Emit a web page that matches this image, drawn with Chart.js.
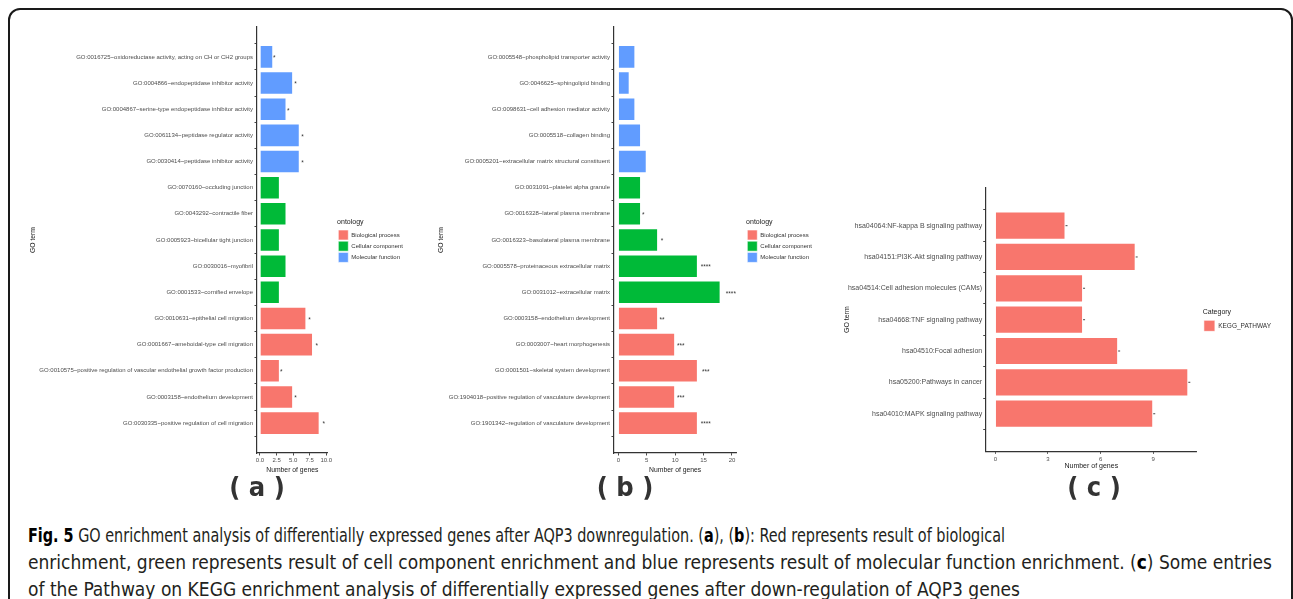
<!DOCTYPE html>
<html><head><meta charset="utf-8">
<script src="https://cdn.jsdelivr.net/npm/chart.js@4.4.1/dist/chart.umd.min.js"></script>
<style>
html,body{margin:0;padding:0;background:#fff;width:1293px;height:599px;overflow:hidden;position:relative}
#frame{position:absolute;left:8px;top:8px;width:1281px;height:640px;border:2px solid #1a1a1a;border-radius:12px}
canvas{position:absolute}
.plab{position:absolute;font-family:"Liberation Sans Narrow","DejaVu Sans Condensed",sans-serif;font-weight:bold;font-size:27px;line-height:27px;color:#333;transform:translate(-50%,-50%);white-space:pre}
#cap{position:absolute;left:28px;top:522px;font-family:"Liberation Sans Narrow","DejaVu Sans Condensed",sans-serif;font-size:20px;line-height:27px;color:#231f20;white-space:nowrap}
#cap .ln{transform-origin:0 0}
#cap b{color:#000}
</style></head><body>
<div id="frame"></div>
<canvas id="ca"></canvas>
<canvas id="cb"></canvas>
<canvas id="cc"></canvas>
<div class="plab" style="left:257px;top:486px">( a )</div>
<div class="plab" style="left:625px;top:486px">( b )</div>
<div class="plab" style="left:1094px;top:486px">( c )</div>
<div id="cap">
<div class="ln" id="d1"><span id="l1"><b>Fig. 5</b> GO enrichment analysis of differentially expressed genes after AQP3 downregulation. (<b>a</b>), (<b>b</b>): Red represents result of biological</span></div>
<div class="ln" id="d2"><span id="l2">enrichment, green represents result of cell component enrichment and blue represents result of molecular function enrichment. (<b>c</b>) Some entries</span></div>
<div class="ln" id="d3"><span id="l3">of the Pathway on KEGG enrichment analysis of differentially expressed genes after down-regulation of AQP3 genes</span></div>
</div>
<script>
const FONT = '"Liberation Sans", Arial, sans-serif';

// ---------- data ----------
const ontologyNames = ["Biological process", "Cellular component", "Molecular function"];
const ontologyColors = ["#F8766D", "#00BA38", "#619CFF"];

const termsA = [
  "GO:0016725~oxidoreductase activity, acting on CH or CH2 groups",
  "GO:0004866~endopeptidase inhibitor activity",
  "GO:0004867~serine-type endopeptidase inhibitor activity",
  "GO:0061134~peptidase regulator activity",
  "GO:0030414~peptidase inhibitor activity",
  "GO:0070160~occluding junction",
  "GO:0043292~contractile fiber",
  "GO:0005923~bicellular tight junction",
  "GO:0030016~myofibril",
  "GO:0001533~cornified envelope",
  "GO:0010631~epithelial cell migration",
  "GO:0001667~ameboidal-type cell migration",
  "GO:0010575~positive regulation of vascular endothelial growth factor production",
  "GO:0003158~endothelium development",
  "GO:0030335~positive regulation of cell migration"
];
const ontologyA = [
  "Molecular function", "Molecular function", "Molecular function", "Molecular function", "Molecular function",
  "Cellular component", "Cellular component", "Cellular component", "Cellular component", "Cellular component",
  "Biological process", "Biological process", "Biological process", "Biological process", "Biological process"
];
const countsA = [2, 5, 4, 6, 6, 3, 4, 3, 4, 3, 7, 8, 3, 5, 9];
const starsA = ["*", "*", "*", "*", "*", "", "", "", "", "", "*", "*", "*", "*", "*"];
const ticksA = [0, 2.5, 5, 7.5, 10];

const termsB = [
  "GO:0005548~phospholipid transporter activity",
  "GO:0046625~sphingolipid binding",
  "GO:0098631~cell adhesion mediator activity",
  "GO:0005518~collagen binding",
  "GO:0005201~extracellular matrix structural constituent",
  "GO:0031091~platelet alpha granule",
  "GO:0016328~lateral plasma membrane",
  "GO:0016323~basolateral plasma membrane",
  "GO:0005578~proteinaceous extracellular matrix",
  "GO:0031012~extracellular matrix",
  "GO:0003158~endothelium development",
  "GO:0003007~heart morphogenesis",
  "GO:0001501~skeletal system development",
  "GO:1904018~positive regulation of vasculature development",
  "GO:1901342~regulation of vasculature development"
];
const ontologyB = [
  "Molecular function", "Molecular function", "Molecular function", "Molecular function", "Molecular function",
  "Cellular component", "Cellular component", "Cellular component", "Cellular component", "Cellular component",
  "Biological process", "Biological process", "Biological process", "Biological process", "Biological process"
];
const countsB = [3, 2, 3, 4, 5, 4, 4, 7, 14, 18, 7, 10, 14, 10, 14];
const starsB = ["", "", "", "", "", "", "*", "*", "****", "****", "**", "***", "***", "***", "****"];
const ticksB = [0, 5, 10, 15, 20];

const termsC = [
  "hsa04064:NF-kappa B signaling pathway",
  "hsa04151:PI3K-Akt signaling pathway",
  "hsa04514:Cell adhesion molecules (CAMs)",
  "hsa04668:TNF signaling pathway",
  "hsa04510:Focal adhesion",
  "hsa05200:Pathways in cancer",
  "hsa04010:MAPK signaling pathway"
];
const categoryC = ["KEGG_PATHWAY", "KEGG_PATHWAY", "KEGG_PATHWAY", "KEGG_PATHWAY", "KEGG_PATHWAY", "KEGG_PATHWAY", "KEGG_PATHWAY"];
const countsC = [4, 8, 5, 5, 7, 11, 9];
const ticksC = [0, 3, 6, 9];

// ---------- helpers ----------
const mctx = document.createElement('canvas').getContext('2d');
function textWidth(str, size) { mctx.font = size + 'px ' + FONT; return mctx.measureText(str).width; }

const barNotes = {
  id: 'barNotes',
  afterDatasetsDraw(chart, args, opts) {
    const ctx = chart.ctx, xs = chart.scales.x;
    ctx.save();
    chart.data.datasets.forEach((ds, di) => {
      const meta = chart.getDatasetMeta(di);
      meta.data.forEach((el, j) => {
        const pt = ds.data[j];
        if (opts.stars) {
          const s = opts.stars[pt.y];
          if (s) {
            ctx.font = opts.size + 'px ' + FONT;
            ctx.fillStyle = '#333';
            ctx.textAlign = 'center';
            ctx.textBaseline = 'middle';
            ctx.fillText(s, xs.getPixelForValue(pt.x * opts.factor), el.y + 1.5);
          }
        }
        if (opts.endMark) {
          ctx.fillStyle = '#666';
          ctx.fillRect(el.x, el.y - 0.6, 2, 1.2);
        }
      });
    });
    ctx.restore();
  }
};

function makePanel(p) {
  const cv = document.getElementById(p.id);
  const titleLH = p.axisTitleSize * 1.2;
  const scaleLeft = p.yTitleX - titleLH / 2;
  const xTitleBottom = p.xTitleY + titleLH / 2;
  const lp = p.legendPad;
  let maxW = 0;
  p.groupNames.forEach(n => { maxW = Math.max(maxW, textWidth(n, p.legendFont)); });
  const legendW = lp + p.boxW + p.legendFont / 2 + maxW + 10;
  const legendLeft = p.legendBoxX - lp;
  let W = Math.ceil(legendLeft + legendW - p.left + 4);
  const H = p.height;
  cv.width = W; cv.height = H;
  cv.style.left = p.left + 'px'; cv.style.top = p.top + 'px';
  const padRight = 4;
  const yWidth = p.chartLeft - scaleLeft;
  const xHeight = xTitleBottom - p.chartBottom;
  const gapW = legendLeft - p.chartRight;
  const n = p.terms.length;

  const datasets = p.groupNames.map((g, gi) => ({
    label: g,
    data: p.terms.map((t, i) => ({ x: p.counts[i], y: i })).filter((d, i) => p.groups[i] === g),
    backgroundColor: p.colors[gi],
    borderColor: 'rgba(255,255,255,0.6)',
    borderWidth: 1,
    grouped: false,
    categoryPercentage: 0.9,
    barPercentage: 1,
    xAxisID: 'x', yAxisID: 'y'
  }));

  const tickFont = { family: FONT, size: p.tickFont };
  const axisGrid = { display: true, drawOnChartArea: false, drawTicks: true, tickLength: 2.5, color: '#333', lineWidth: 0.9 };
  const axisBorder = { display: true, color: '#333', width: 1.2 };

  const chart = new Chart(cv, {
    type: 'bar',
    data: { datasets },
    plugins: [barNotes],
    options: {
      indexAxis: 'y',
      responsive: false,
      animation: false,
      events: [],
      layout: { padding: { left: scaleLeft - p.left, top: p.chartTop - p.top, right: padRight, bottom: (p.top + H) - xTitleBottom } },
      scales: {
        x: {
          type: 'linear', position: 'bottom', min: p.xmin, max: p.xmax,
          afterBuildTicks: s => { s.ticks = p.ticks.map(v => ({ value: v })); },
          ticks: { callback: v => p.fmt(v), font: tickFont, color: '#4d4d4d', padding: 1.5, maxRotation: 0, autoSkip: false },
          grid: axisGrid, border: axisBorder,
          title: { display: true, text: 'Number of genes', font: { family: FONT, size: p.axisTitleSize }, color: '#1a1a1a', padding: 0 },
          afterFit: s => { s.height = xHeight; }
        },
        y: {
          type: 'linear', position: 'left', reverse: true, min: -0.6, max: n - 1 + 0.6,
          afterBuildTicks: s => { s.ticks = p.terms.map((t, i) => ({ value: i })); },
          ticks: { callback: v => p.terms[v], font: { family: FONT, size: p.labelFont }, color: '#4d4d4d', padding: p.labelPad, autoSkip: false },
          grid: axisGrid, border: axisBorder,
          title: { display: true, text: 'GO term', font: { family: FONT, size: p.axisTitleSize }, color: '#1a1a1a', padding: 0 },
          afterFit: s => { s.width = yWidth; }
        },
        gap: {
          type: 'linear', position: 'right', display: true,
          grid: { display: false }, ticks: { display: false }, border: { display: false },
          afterFit: s => { s.width = gapW; }
        }
      },
      plugins: {
        tooltip: { enabled: false },
        legend: {
          display: true, position: 'right', align: 'center', fullSize: false, maxWidth: 400,
          title: { display: true, text: p.legendTitle, position: 'start', font: { family: FONT, size: 7 }, color: '#1a1a1a', padding: { top: 2, bottom: 2 } },
          labels: { boxWidth: p.boxW, boxHeight: p.boxW, padding: lp, font: { family: FONT, size: p.legendFont }, color: '#333' }
        },
        barNotes: { stars: p.stars, factor: p.starFactor, size: 6.5, endMark: p.endMark }
      }
    }
  });
  // correct canvas width so that the plot area ends where the reference's does
  const delta = p.chartRight - (p.left + chart.chartArea.right);
  if (Math.abs(delta) > 0.25) {
    W = Math.round(W + delta);
    chart.resize(W, H);
  }
  return chart;
}

makePanel({
  id: 'ca', left: 20, top: 0, height: 480,
  terms: termsA, groups: ontologyA, counts: countsA, stars: starsA, starFactor: 1.07,
  groupNames: ontologyNames, colors: ontologyColors,
  ticks: ticksA, fmt: v => v.toFixed(1), xmin: -0.45, xmax: 10.2,
  yTitleX: 33, xTitleY: 470, axisTitleSize: 6.8,
  chartLeft: 257, chartRight: 327.3, chartTop: 27, chartBottom: 453,
  labelFont: 6, labelPad: 1.5, tickFont: 6,
  legendTitle: 'ontology', legendFont: 6, boxW: 10, legendPad: 1.2, legendBoxX: 338, endMark: false
});

makePanel({
  id: 'cb', left: 430, top: 0, height: 480,
  terms: termsB, groups: ontologyB, counts: countsB, stars: starsB, starFactor: 1.1,
  groupNames: ontologyNames, colors: ontologyColors,
  ticks: ticksB, fmt: v => String(v), xmin: -0.76, xmax: 20.76,
  yTitleX: 441, xTitleY: 470, axisTitleSize: 6.8,
  chartLeft: 614, chartRight: 736, chartTop: 27, chartBottom: 453,
  labelFont: 6, labelPad: 1.5, tickFont: 6,
  legendTitle: 'ontology', legendFont: 6, boxW: 10, legendPad: 1.2, legendBoxX: 747, endMark: false
});

makePanel({
  id: 'cc', left: 830, top: 150, height: 330,
  terms: termsC, groups: categoryC, counts: countsC, stars: null, starFactor: 1,
  groupNames: ["KEGG_PATHWAY"], colors: ["#F8766D"],
  ticks: ticksC, fmt: v => String(v), xmin: -0.55, xmax: 11.49,
  yTitleX: 847, xTitleY: 467, axisTitleSize: 7,
  chartLeft: 985.7, chartRight: 1197, chartTop: 188, chartBottom: 452,
  labelFont: 7, labelPad: 1, tickFont: 6,
  legendTitle: 'Category', legendFont: 6.5, boxW: 11, legendPad: 1.2, legendBoxX: 1204, endMark: true
});

// caption line widths fitted to the reference
const capTargets = [["d1", "l1", 977], ["d2", "l2", 1244], ["d3", "l3", 992]];
capTargets.forEach(([d, l, target]) => {
  const w = document.getElementById(l).getBoundingClientRect().width;
  document.getElementById(d).style.transform = 'scaleX(' + (target / w) + ')';
});
</script>
</body></html>
